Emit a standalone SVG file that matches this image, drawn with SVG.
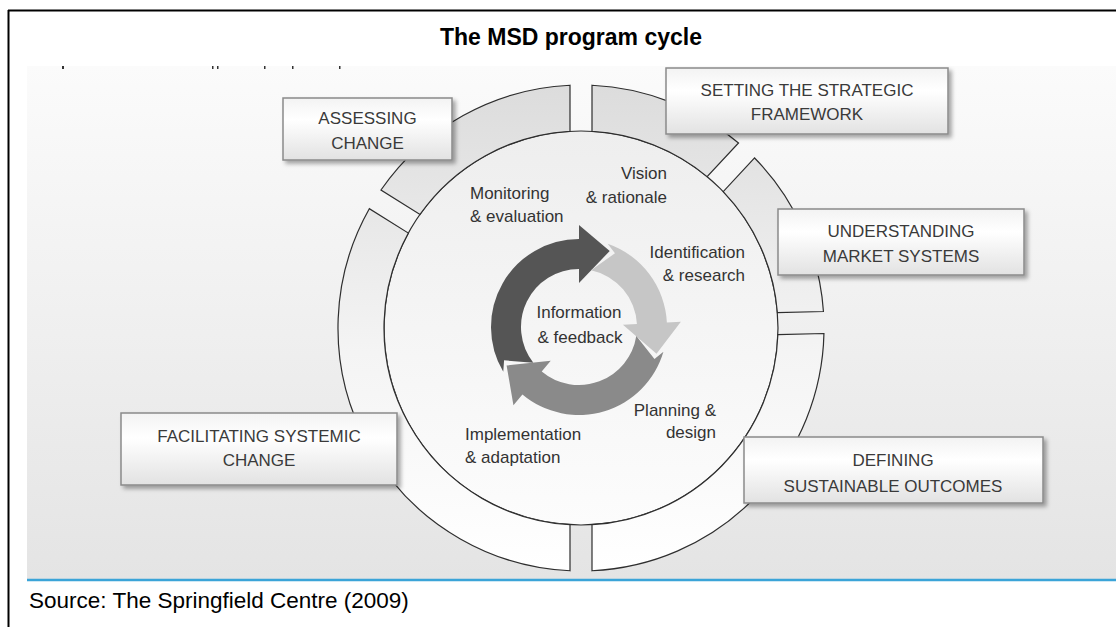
<svg xmlns="http://www.w3.org/2000/svg" width="1116" height="627" viewBox="0 0 1116 627">
<defs>
<linearGradient id="panelG" x1="0" y1="66" x2="0" y2="579" gradientUnits="userSpaceOnUse">
<stop offset="0" stop-color="#fbfbfb"/><stop offset="1" stop-color="#e4e4e4"/>
</linearGradient>
<linearGradient id="ringG" x1="0" y1="85" x2="0" y2="571" gradientUnits="userSpaceOnUse">
<stop offset="0" stop-color="#dcdcdc"/><stop offset="0.55" stop-color="#f4f4f4"/><stop offset="1" stop-color="#ffffff"/>
</linearGradient>
<linearGradient id="diskG" x1="0" y1="131" x2="0" y2="525" gradientUnits="userSpaceOnUse">
<stop offset="0" stop-color="#eeeeee"/><stop offset="1" stop-color="#fcfcfc"/>
</linearGradient>
<linearGradient id="boxG" x1="0" y1="0" x2="0" y2="1">
<stop offset="0" stop-color="#f3f3f3"/><stop offset="0.35" stop-color="#ffffff"/><stop offset="1" stop-color="#e2e2e2"/>
</linearGradient>
<filter id="sh" x="-10%" y="-20%" width="125%" height="150%">
<feDropShadow dx="3" dy="3" stdDeviation="2" flood-color="#000" flood-opacity="0.35"/>
</filter>
</defs>
<style>
.seg{fill:url(#ringG);stroke:#2e2e2e;stroke-width:1.2}
.box{fill:url(#boxG);stroke:#8a8a8a;stroke-width:1.5;filter:url(#sh)}
.bt{font-family:"Liberation Sans",Arial,sans-serif;font-size:17px;fill:#3a3a3a;text-anchor:middle}
.lb{font-family:"Liberation Sans",Arial,sans-serif;font-size:17px;fill:#333}
.r{text-anchor:end}
.c{text-anchor:middle}
</style>
<rect x="0" y="0" width="1116" height="627" fill="#ffffff"/>
<rect x="27" y="66" width="1089" height="513" fill="url(#panelG)"/>
<line x1="8" y1="10.5" x2="1116" y2="10.5" stroke="#000" stroke-width="2"/>
<line x1="8.5" y1="10" x2="8.5" y2="627" stroke="#000" stroke-width="2"/>
<line x1="27" y1="580" x2="1116" y2="580" stroke="#3ba4d8" stroke-width="2.5"/>
<g id="cutoff-marks" fill="#333">
<rect x="62" y="66" width="2" height="3"/><rect x="212" y="66" width="1.5" height="3"/><rect x="217" y="66" width="1.5" height="3"/><rect x="264" y="66" width="1.5" height="3"/><rect x="292" y="66" width="1.5" height="3"/><rect x="339" y="66" width="1.5" height="3"/>
</g>
<text x="571" y="45" font-family="'Liberation Sans',Arial,sans-serif" font-size="23" font-weight="bold" text-anchor="middle" fill="#000">The MSD program cycle</text>

<g id="inner-disk">
<circle cx="581" cy="328" r="197" fill="url(#diskG)" stroke="#2e2e2e" stroke-width="1.2"/>
</g>

<g id="assessing-change">
<path class="seg" d="M 380.96 190.02 A 243 243 0 0 1 570.00 85.25 L 570.00 131.31 A 197 197 0 0 0 420.03 214.45 Z"/>
<rect class="box" x="283" y="98" width="169" height="62"/>
<text class="bt" x="367.5" y="124">ASSESSING</text>
<text class="bt" x="367.5" y="149">CHANGE</text>
</g>

<g id="setting-framework">
<path class="seg" d="M 592.00 85.25 A 243 243 0 0 1 738.51 142.96 L 707.09 176.64 A 197 197 0 0 0 592.00 131.31 Z"/>
<rect class="box" x="666" y="68" width="282" height="66"/>
<text class="bt" x="807" y="96">SETTING THE STRATEGIC</text>
<text class="bt" x="807" y="120">FRAMEWORK</text>
</g>

<g id="understanding-market">
<path class="seg" d="M 754.59 157.96 A 243 243 0 0 1 823.44 311.49 L 777.39 312.54 A 197 197 0 0 0 723.19 191.65 Z"/>
<rect class="box" x="778" y="209" width="246" height="66"/>
<text class="bt" x="901" y="237">UNDERSTANDING</text>
<text class="bt" x="901" y="262">MARKET SYSTEMS</text>
</g>

<g id="defining-outcomes">
<path class="seg" d="M 823.94 333.49 A 243 243 0 0 1 592.00 570.75 L 592.00 524.69 A 197 197 0 0 0 777.89 334.53 Z"/>
<rect class="box" x="744" y="437" width="299" height="66"/>
<text class="bt" x="893" y="466">DEFINING</text>
<text class="bt" x="893" y="492">SUSTAINABLE OUTCOMES</text>
</g>

<g id="facilitating-change">
<path class="seg" d="M 570.00 570.75 A 243 243 0 0 1 369.30 208.69 L 408.37 233.09 A 197 197 0 0 0 570.00 524.69 Z"/>
<rect class="box" x="121" y="413" width="276" height="72"/>
<text class="bt" x="259" y="442">FACILITATING SYSTEMIC</text>
<text class="bt" x="259" y="466">CHANGE</text>
</g>

<g id="connectors">
<path fill="#555555" d="M 533.30 362.71 L 504.09 360.35 L 503.26 371.79 A 88 88 0 0 1 579 239 L 579 225 L 609.72 250.97 L 579 283 L 579 269 A 58 58 0 0 0 533.30 362.71 Z"/>
<path fill="#c6c6c6" d="M 591.06 270.27 L 614.95 253.30 L 607.65 243.80 A 88 88 0 0 1 666.88 322.40 L 680.86 321.66 L 656.53 353.70 L 622.94 324.70 L 636.92 323.96 A 58 58 0 0 0 591.06 270.27 Z"/>
<path fill="#8a8a8a" d="M 636.29 336.07 L 654.48 359.04 L 663.42 351.84 A 88 88 0 0 1 522.43 394.41 L 513.43 405.13 L 506.60 365.50 L 550.72 360.70 L 541.72 371.43 A 58 58 0 0 0 636.29 336.07 Z"/>
</g>

<g id="stage-labels">
<text class="lb r" x="667" y="179">Vision</text>
<text class="lb r" x="667" y="203">&amp; rationale</text>
<text class="lb" x="470" y="199">Monitoring</text>
<text class="lb" x="470" y="222">&amp; evaluation</text>
<text class="lb r" x="745" y="258">Identification</text>
<text class="lb r" x="745" y="281">&amp; research</text>
<text class="lb r" x="716" y="416">Planning &amp;</text>
<text class="lb r" x="716" y="438">design</text>
<text class="lb" x="465" y="440">Implementation</text>
<text class="lb" x="465" y="463">&amp; adaptation</text>
</g>
<g id="center-label">
<text class="lb c" x="579" y="318" font-size="19.5">Information</text>
<text class="lb c" x="580" y="343" font-size="19.5">&amp; feedback</text>
</g>
<text x="29" y="608" font-family="'Liberation Sans',Arial,sans-serif" font-size="22.5" fill="#000">Source: The Springfield Centre (2009)</text>
</svg>
